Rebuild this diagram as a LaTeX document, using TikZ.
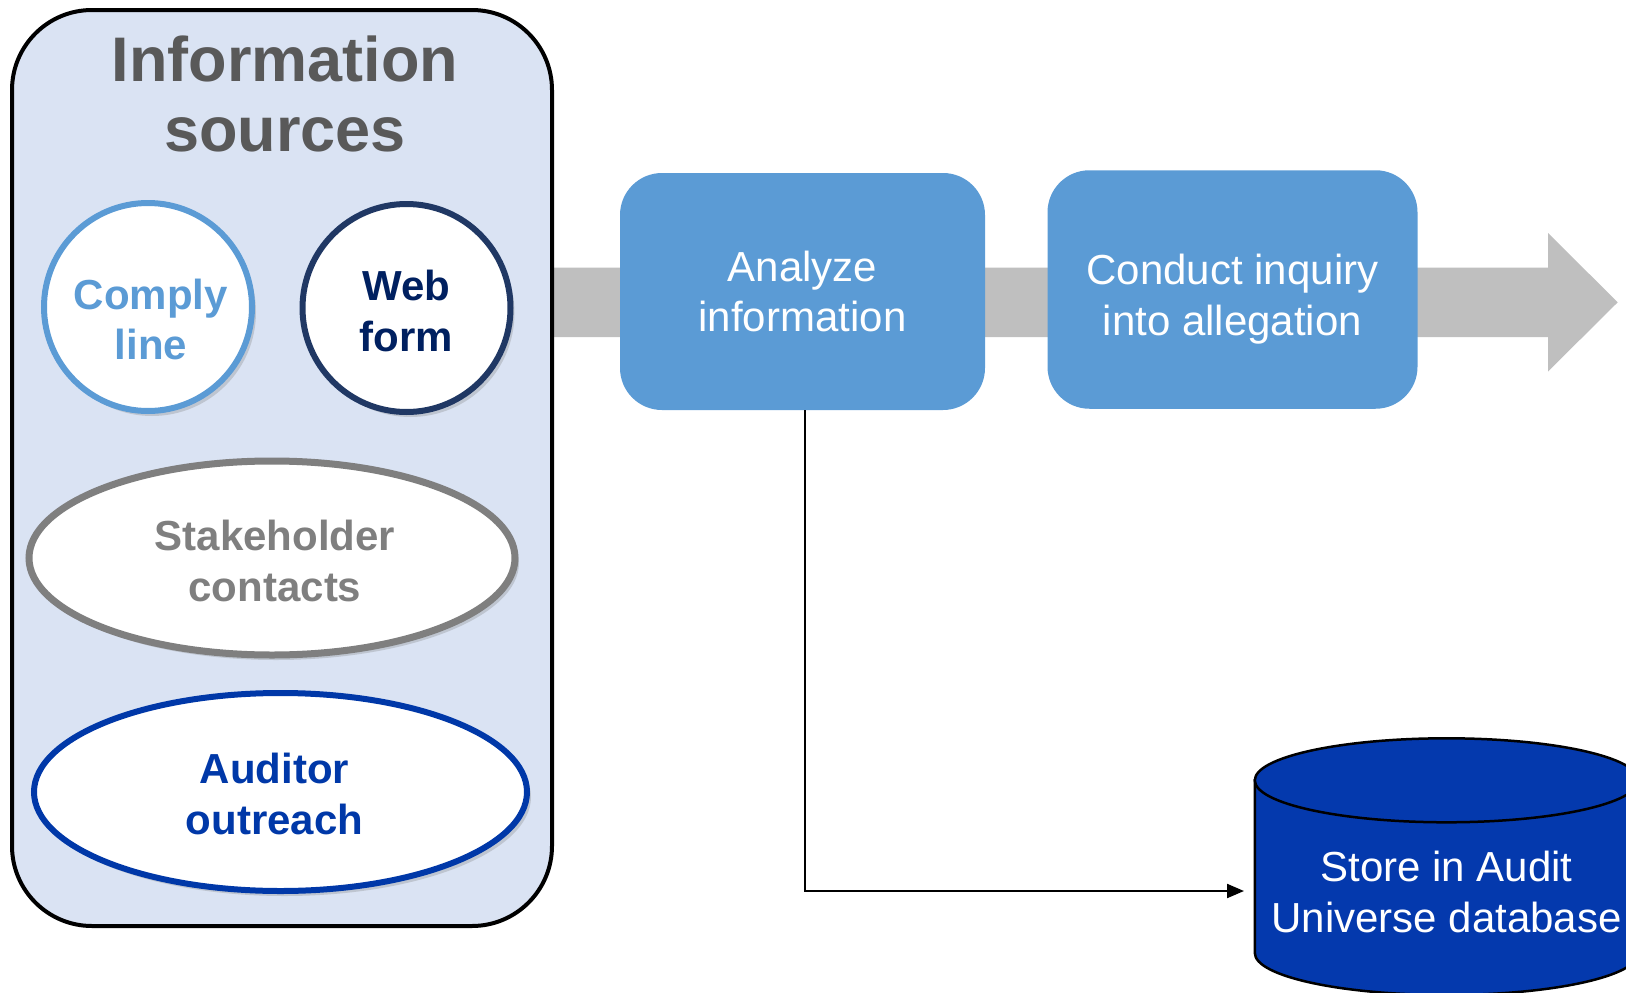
\documentclass[tikz,border=0pt]{standalone}
\usepackage{fontspec}
\setmainfont{Liberation Sans}
\usepackage{tikz}
\usetikzlibrary{arrows.meta,shapes.geometric,shadows}
\definecolor{panelblue}{HTML}{DAE3F3}
\definecolor{titlegray}{HTML}{595959}
\definecolor{lightblue}{HTML}{5B9BD5}
\definecolor{navy}{HTML}{203864}
\definecolor{navytext}{HTML}{002060}
\definecolor{midgray}{HTML}{7F7F7F}
\definecolor{royal}{HTML}{0038A8}
\definecolor{arrowgray}{HTML}{BFBFBF}
\definecolor{dbblue}{HTML}{0439AD}

\begin{document}
\begin{tikzpicture}[x=1pt,y=-1pt,
  bigtext/.style={font=\fontsize{42}{50.5}\selectfont,align=center},
  srctext/.style={bigtext,font=\bfseries\fontsize{42}{50.5}\selectfont},
  srcshape/.style={draw,fill=white,line width=6pt,inner sep=0pt,
    drop shadow={shadow xshift=4pt,shadow yshift=-5pt,opacity=0.3}},
  srccircle/.style={srcshape,circle,minimum size=208pt},
  srcellipse/.style={srcshape,ellipse},
  process/.style={bigtext,fill=lightblue,text=white,rounded corners=42pt,inner sep=0pt}]
\useasboundingbox (0,0) rectangle (1626,993);
\clip (0,0) rectangle (1626,993);

\fill[arrowgray] (552,267.5) -- (1548,267.5) -- (1548,233) -- (1617.7,302.3)
  -- (1548,371.5) -- (1548,337) -- (552,337) -- cycle;

\node[draw,line width=4pt,fill=panelblue,rounded corners=80pt,
  minimum width=540pt,minimum height=916pt] (panel) at (282,468) {};
\node[font=\bfseries\fontsize{63}{70.5}\selectfont,text=titlegray,align=center]
  (title) at (285,94) {Information\\sources};

\node[srccircle,draw=lightblue] (complyring) at (148,307) {};
\node[srctext,text=lightblue] (comply) at (151,319.5) {Comply\\line};
\node[srccircle,draw=navy] (webring) at (406.5,308) {};
\node[srctext,text=navytext] (webform) at (406.5,311) {Web\\form};
\node[srcellipse,draw=midgray,line width=7pt,
  minimum width=486pt,minimum height=194pt] (stakering) at (272,558) {};
\node[srctext,text=midgray] (stake) at (275,561) {Stakeholder\\contacts};
\node[srcellipse,draw=royal,
  minimum width=493pt,minimum height=198pt] (auditring) at (280.5,792) {};
\node[srctext,text=royal] (auditor) at (274.5,794) {Auditor\\outreach};

\node[process,minimum width=365pt,minimum height=237pt] (analyze) at (802.5,291.5) {Analyze\\information};
\node[process,minimum width=370pt,minimum height=238.5pt] (inquiry) at (1232.5,289.5) {};
\node[bigtext,text=white] (inquirytext) at (1232.5,299) {Conduct inquiry\\into allegation};

\filldraw[fill=dbblue,draw=black,line width=2.5pt] (1254.8,780.3) -- (1254.8,953)
  arc[start angle=180,end angle=0,x radius=191.8,y radius=42] -- (1638.4,780.3) -- cycle;
\filldraw[fill=dbblue,draw=black,line width=2.5pt] (1446.6,780.3) ellipse[x radius=191.8,y radius=42];
\node[bigtext,text=white] (store) at (1446.6,892) {Store in Audit\\Universe database};

\coordinate (dbin) at (1244,891);
\draw[line width=2.2pt,-{Triangle[length=17pt,width=14pt]}] ([xshift=2.5pt]analyze.south) |- (dbin);
\end{tikzpicture}
\end{document}
